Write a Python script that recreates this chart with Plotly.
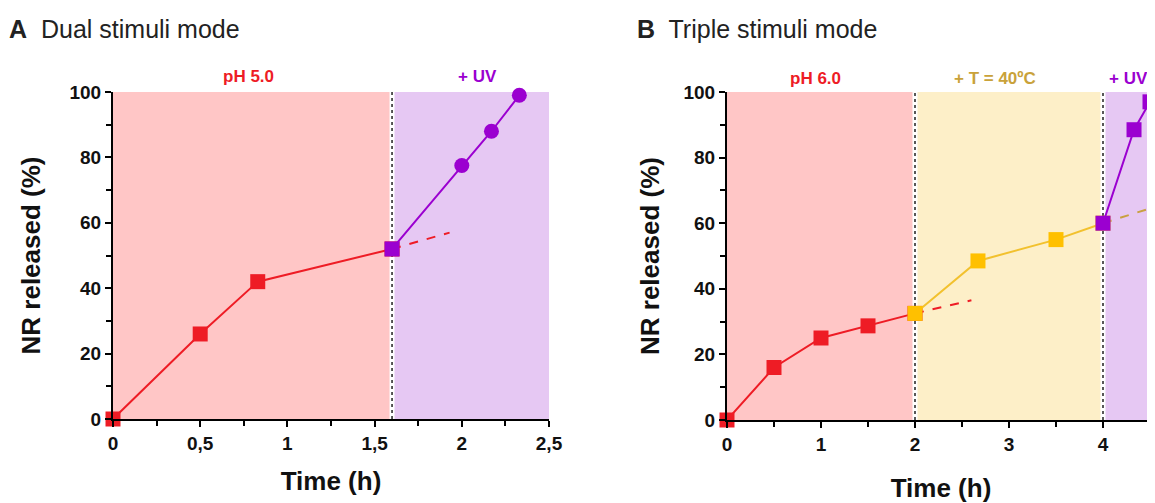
import plotly.graph_objects as go

W, H = 1155, 503
OFF = 8  # page body margin of the rendered HTML

# ---------------- data ----------------
# Panel A (dual stimuli)
a_ph_t = [0, 0.5, 0.83, 1.6]
a_ph_v = [0, 26, 42, 52]
a_uv_t = [1.6, 2.0, 2.17, 2.33]
a_uv_v = [52, 77.5, 88, 99]
a_ext_t = [1.6, 1.93]
a_ext_v = [52, 57]
a_xticks = [0, 0.5, 1, 1.5, 2, 2.5]
a_xticklabels = ["0", "0,5", "1", "1,5", "2", "2,5"]

# Panel B (triple stimuli)
b_ph_t = [0, 0.5, 1, 1.5, 2]
b_ph_v = [0, 16, 25, 28.7, 32.5]
b_T_t = [2, 2.67, 3.5, 4]
b_T_v = [32.5, 48.5, 55, 60]
b_uv_t = [4, 4.33, 4.5]
b_uv_v = [60, 88.5, 97]
b_ph_ext_t = [2, 2.6]
b_ph_ext_v = [32.5, 36.5]
b_T_ext_t = [4, 4.5]
b_T_ext_v = [60, 64.5]
b_xticks = [0, 1, 2, 3, 4]
b_xticklabels = ["0", "1", "2", "3", "4"]

yticks = [0, 20, 40, 60, 80, 100]

a_regions = [(0, 1.6, "#FFC6C6"), (1.6, 2.5, "#E6C8F3")]
b_regions = [(0, 2, "#FFC6C6"), (2, 4, "#FDEFC8"), (4, 4.6, "#E6C8F3")]
a_switch = [1.6]
b_switch = [2, 4]

# ---------------- styles ----------------
RED = "#EE1C25"
PURPLE = "#9B00D0"
GOLD = "#FFC000"
GOLD_LINE = "#F2C12E"
GOLD_TXT = "#C9A23A"
FONT = "Liberation Sans, Arial, sans-serif"
INK = "#111111"

FW, FH = W - OFF, H - OFF

fig = go.Figure()

def add(tr, xa, ya):
    tr.update(xaxis=xa, yaxis=ya, showlegend=False, cliponaxis=False, hoverinfo="skip")
    fig.add_trace(tr)

SQ = 15
# Panel A traces
add(go.Scatter(x=a_ext_t, y=a_ext_v, mode="lines",
               line=dict(color=RED, width=2, dash="dash")), "x", "y")
add(go.Scatter(x=a_ph_t, y=a_ph_v, mode="lines+markers",
               line=dict(color=RED, width=2),
               marker=dict(symbol="square", size=SQ, color=RED)), "x", "y")
add(go.Scatter(x=a_uv_t, y=a_uv_v, mode="lines",
               line=dict(color=PURPLE, width=2)), "x", "y")
add(go.Scatter(x=a_uv_t[1:], y=a_uv_v[1:], mode="markers",
               marker=dict(symbol="circle", size=15, color=PURPLE)), "x", "y")
add(go.Scatter(x=a_uv_t[:1], y=a_uv_v[:1], mode="markers",
               marker=dict(symbol="square", size=SQ, color=PURPLE)), "x", "y")

# Panel B traces
add(go.Scatter(x=b_ph_ext_t, y=b_ph_ext_v, mode="lines",
               line=dict(color=RED, width=2, dash="dash")), "x2", "y2")
add(go.Scatter(x=b_T_ext_t, y=b_T_ext_v, mode="lines",
               line=dict(color="#C9A040", width=2, dash="dash")), "x2", "y2")
add(go.Scatter(x=b_ph_t, y=b_ph_v, mode="lines+markers",
               line=dict(color=RED, width=2),
               marker=dict(symbol="square", size=SQ, color=RED)), "x2", "y2")
add(go.Scatter(x=b_T_t, y=b_T_v, mode="lines+markers",
               line=dict(color=GOLD_LINE, width=2),
               marker=dict(symbol="square", size=SQ, color=GOLD)), "x2", "y2")
add(go.Scatter(x=b_uv_t, y=b_uv_v, mode="lines+markers",
               line=dict(color=PURPLE, width=2),
               marker=dict(symbol="square", size=SQ, color=PURPLE)), "x2", "y2")

# shapes: shaded regions + switch lines
shapes = []
for xr, yr, regs, sw in (("x", "y", a_regions, a_switch), ("x2", "y2", b_regions, b_switch)):
    for x0, x1, c in regs:
        shapes.append(dict(type="rect", xref=xr, yref=yr, x0=x0, x1=x1, y0=0, y1=100,
                           fillcolor=c, line=dict(width=0), layer="below"))
    for s in sw:
        shapes.append(dict(type="line", xref=xr, yref=yr, x0=s, x1=s, y0=0, y1=100,
                           line=dict(color="white", width=5), layer="below"))
        shapes.append(dict(type="line", xref=xr, yref=yr, x0=s, x1=s, y0=0, y1=100,
                           line=dict(color="#222222", width=1.5, dash="dot"), layer="below"))

# domains (pixel based, in screenshot coordinates)
def px_x(p):
    return (p - OFF) / FW

def px_y(p):
    return 1 - (p - OFF) / FH

tickfont = dict(family=FONT, size=19, color=INK, weight="bold")
titlefont = dict(family=FONT, size=26, color=INK, weight="bold")
minor_style = dict(ticks="outside", ticklen=5, tickwidth=2, tickcolor="black")
ax_common = dict(showline=True, linecolor="black", linewidth=2, showgrid=False, zeroline=False,
                 ticks="outside", ticklen=6, tickwidth=2, tickcolor="black",
                 tickfont=tickfont)

fig.update_layout(
    width=FW, height=FH,
    margin=dict(l=0, r=0, t=0, b=0, autoexpand=False),
    paper_bgcolor="white", plot_bgcolor="white",
    shapes=shapes,
    xaxis=dict(ax_common, domain=[px_x(113), px_x(549)], range=[0, 2.5], anchor="y",
               tickvals=a_xticks, ticktext=a_xticklabels,
               minor=dict(minor_style, dtick=0.25, tick0=0),
               title=dict(text="Time (h)", font=titlefont, standoff=19)),
    yaxis=dict(ax_common, domain=[px_y(419), px_y(92)], range=[0, 100], anchor="x",
               tickvals=yticks,
               minor=dict(minor_style, dtick=10, tick0=0),
               title=dict(text="NR released (%)", font=titlefont, standoff=21)),
    xaxis2=dict(ax_common, domain=[px_x(727), 1.0], range=[0, (1155 - 727) / 94.0], anchor="y2",
                tickvals=b_xticks, ticktext=b_xticklabels,
                minor=dict(minor_style, dtick=0.5, tick0=0),
                title=dict(text="Time (h)", font=titlefont, standoff=28)),
    yaxis2=dict(ax_common, domain=[px_y(420), px_y(92)], range=[0, 100], anchor="x2",
                tickvals=yticks,
                minor=dict(minor_style, dtick=10, tick0=0),
                title=dict(text="NR released (%)", font=titlefont, standoff=16)),
)

ann = []
# panel titles
ann.append(dict(text="<b>A</b>  Dual stimuli mode", xref="paper", yref="paper",
                x=px_x(7), y=px_y(29), xanchor="left", yanchor="middle", showarrow=False,
                font=dict(family=FONT, size=25, color="#222222")))
ann.append(dict(text="<b>B</b>  Triple stimuli mode", xref="paper", yref="paper",
                x=px_x(635), y=px_y(29), xanchor="left", yanchor="middle", showarrow=False,
                font=dict(family=FONT, size=25, color="#222222")))
# region labels
def lab(text, xr, x, color, ypx=76):
    ann.append(dict(text=text, xref=xr, yref="paper", x=x, y=px_y(ypx),
                    xanchor="center", yanchor="middle", showarrow=False,
                    font=dict(family=FONT, size=17, color=color, weight="bold")))

lab("pH 5.0", "x", 0.775, RED)
lab("+ UV", "x", 2.09, PURPLE)
lab("pH 6.0", "x2", 0.94, RED, 78)
lab("+ T = 40ºC", "x2", 2.85, GOLD_TXT, 78)
lab("+ UV", "x2", 4.27, PURPLE, 78)
fig.update_layout(annotations=ann)

fig.write_html("out.html")
